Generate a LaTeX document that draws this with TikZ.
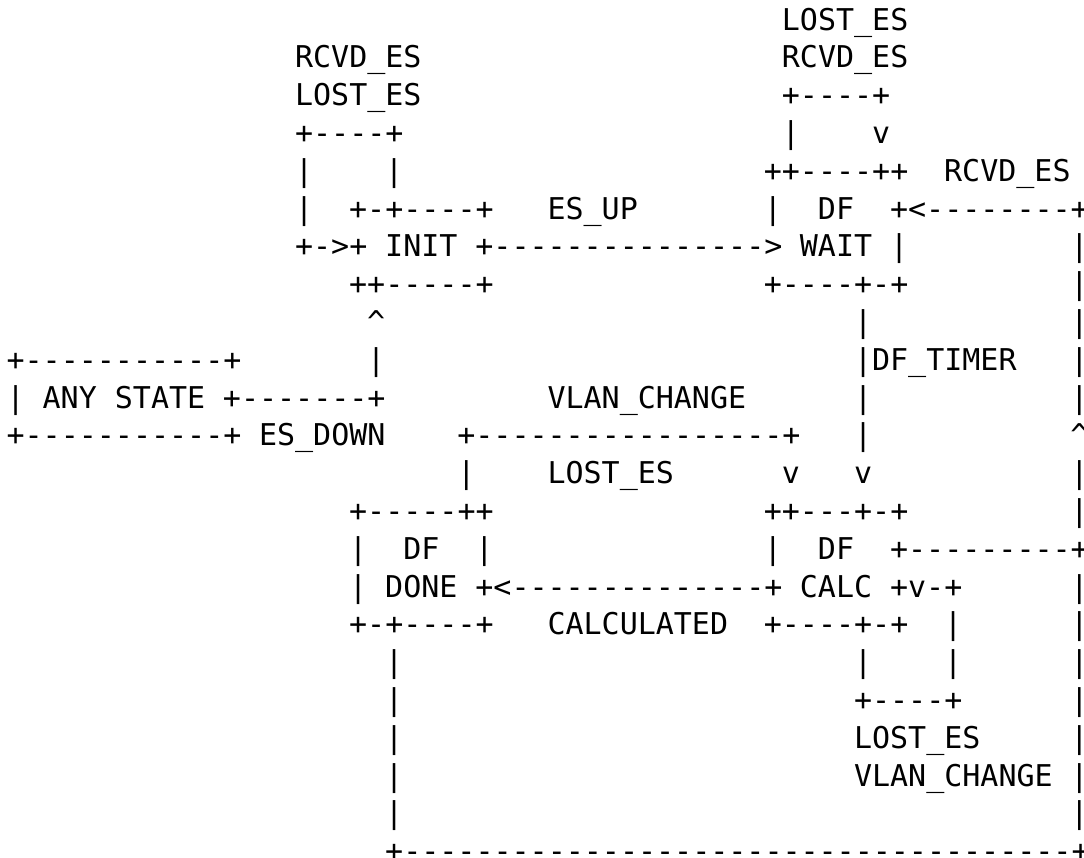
\documentclass[tikz,border=0pt]{standalone}
\usepackage{fontspec}
\setmonofont{DejaVu Sans Mono}
\tikzset{
  asc/.style={anchor=base west, inner sep=0pt, outer sep=0pt,
    font=\ttfamily\fontsize{15}{15}\selectfont}
}
\begin{document}
\begin{tikzpicture}[x=9.015pt,y=-18.9pt]
  % Cornice
  \fill[white] (-0.366,-0.794) rectangle (59.756,21.878);
  \useasboundingbox (-0.366,-0.794) rectangle (59.756,21.878);
  % Anello su WAIT
  \node[asc] (waitLost) at (43,0) {LOST\_ES};
  \node[asc] (waitRcvd) at (43,1) {RCVD\_ES};
  \node[asc] (waitTop) at (43,2) {+----+};
  \node[asc] (waitBarL) at (43,3) {|};
  \node[asc] (waitArrow) at (48,3) {v};
  % Anello su INIT
  \node[asc] (initRcvd) at (16,1) {RCVD\_ES};
  \node[asc] (initLost) at (16,2) {LOST\_ES};
  \node[asc] (initTop) at (16,3) {+----+};
  \node[asc] (initBarL) at (16,4) {|};
  \node[asc] (initBarR) at (21,4) {|};
  \node[asc] (initBarL2) at (16,5) {|};
  % Stato INIT
  \node[asc] (initTopEdge) at (19,5) {+-+----+};
  \node[asc] (initArrow) at (16,6) {+->+};
  \node[asc] (init) at (21,6) {INIT};
  \node[asc] (initBot) at (19,7) {++-----+};
  % Stato DF WAIT
  \node[asc] (waitTopEdge) at (42,4) {++----++};
  \node[asc] (rcvdRight) at (52,4) {RCVD\_ES};
  \node[asc] (waitSideL) at (42,5) {|};
  \node[asc] (waitDf) at (45,5) {DF};
  \node[asc] (waitBack) at (49,5) {+<--------+};
  \node[asc] (wait) at (44,6) {WAIT};
  \node[asc] (waitSideR) at (49,6) {|};
  \node[asc] (waitBot) at (42,7) {+----+-+};
  % ES_UP
  \node[asc] (esUp) at (30,5) {ES\_UP};
  \node[asc] (esUpLine) at (26,6) {+--------------->};
  % DF_TIMER
  \node[asc] (timerA) at (47,8) {|};
  \node[asc] (timerB) at (47,9) {|DF\_TIMER};
  \node[asc] (timerC) at (47,10) {|};
  \node[asc] (timerD) at (47,11) {|};
  \node[asc] (timerArrow) at (47,12) {v};
  % ANY STATE ed ES_DOWN
  \node[asc] (anyTop) at (0,9) {+-----------+};
  \node[asc] (anySide) at (0,10) {|};
  \node[asc] (any) at (2,10) {ANY STATE};
  \node[asc] (anyOut) at (12,10) {+-------+};
  \node[asc] (anyBot) at (0,11) {+-----------+};
  \node[asc] (esDown) at (14,11) {ES\_DOWN};
  \node[asc] (downUp) at (20,8) {\textasciicircum};
  \node[asc] (downBar) at (20,9) {|};
  % VLAN_CHANGE e LOST_ES verso CALC
  \node[asc] (vlan) at (30,10) {VLAN\_CHANGE};
  \node[asc] (vlanLine) at (25,11) {+-----------------+};
  \node[asc] (vlanBar) at (25,12) {|};
  \node[asc] (vlanLost) at (30,12) {LOST\_ES};
  \node[asc] (vlanArrow) at (43,12) {v};
  % Stato DF DONE
  \node[asc] (doneTop) at (19,13) {+-----++};
  \node[asc] (doneSideL) at (19,14) {|};
  \node[asc] (doneDf) at (22,14) {DF};
  \node[asc] (doneSideR) at (26,14) {|};
  \node[asc] (doneSideL2) at (19,15) {|};
  \node[asc] (done) at (21,15) {DONE};
  \node[asc] (doneBot) at (19,16) {+-+----+};
  % CALCULATED
  \node[asc] (calcLine) at (26,15) {+<--------------+};
  \node[asc] (calculated) at (30,16) {CALCULATED};
  % Stato DF CALC
  \node[asc] (calcTop) at (42,13) {++---+-+};
  \node[asc] (calcSideL) at (42,14) {|};
  \node[asc] (calcDf) at (45,14) {DF};
  \node[asc] (calcOut) at (49,14) {+---------+};
  \node[asc] (calc) at (44,15) {CALC};
  \node[asc] (calcLoop) at (49,15) {+v-+};
  \node[asc] (calcBot) at (42,16) {+----+-+};
  % Anello su CALC
  \node[asc] (loopBarR1) at (52,16) {|};
  \node[asc] (loopBarL) at (47,17) {|};
  \node[asc] (loopBarR2) at (52,17) {|};
  \node[asc] (loopBot) at (47,18) {+----+};
  \node[asc] (loopLost) at (47,19) {LOST\_ES};
  \node[asc] (loopVlan) at (47,20) {VLAN\_CHANGE};
  % Ritorno a destra
  \foreach \r in {6,7,8,9,10,12,13,15,16,17,18,19,20,21}
    \node[asc] (right\r) at (59,\r) {|};
  \node[asc] (rightUp) at (59,11) {\textasciicircum};
  % Ritorno in basso da DONE
  \foreach \r in {17,18,19,20,21}
    \node[asc] (down\r) at (21,\r) {|};
  \node[asc] (bottom) at (21,22) {+-------------------------------------+};
\end{tikzpicture}
\end{document}
